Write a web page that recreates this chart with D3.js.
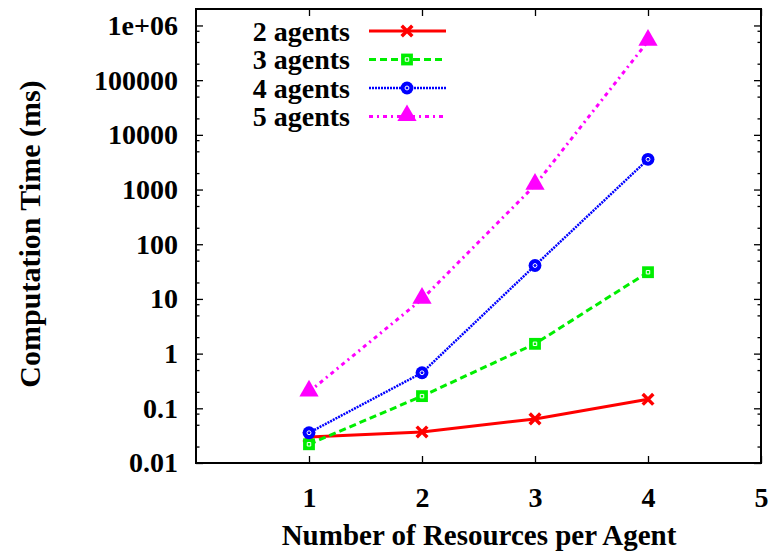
<!DOCTYPE html>
<html>
<head>
<meta charset="utf-8">
<script src="https://cdn.jsdelivr.net/npm/d3@7"></script>
<style>
  body { margin: 0; background: #fff; }
  text { font-family: "Liberation Serif", "Times New Roman", serif; font-weight: bold; }
</style>
</head>
<body>
<div id="chart"></div>
<script>
// Dados
const resources = [1, 2, 3, 4];
const agents2 = [0.030, 0.037, 0.064, 0.146];
const agents3 = [0.022, 0.167, 1.51, 30.8];
const agents4 = [0.0357, 0.446, 40.8, 3570];
const agents5 = [0.20, 9.9, 1200, 516000];
const seriesNames = ["2 agents", "3 agents", "4 agents", "5 agents"];
const xTicks = [1, 2, 3, 4, 5];
const yTicks = [0.01, 0.1, 1, 10, 100, 1000, 10000, 100000, 1000000];

const width = 773;
const height = 553;
const margin = { top: 9, right: 12, bottom: 90, left: 196 };
const w = width - margin.left - margin.right;
const h = height - margin.top - margin.bottom;

const svg = d3.select("#chart")
    .append("svg")
    .attr("width", width)
    .attr("height", height);

const g = svg.append("g")
    .attr("transform", `translate(${margin.left},${margin.top})`);

const x = d3.scaleLinear().domain([0, 5]).range([0, w]);
const y = d3.scaleLog().domain([0.01, 2e6]).range([h, 0]);

// ticks menores (2, 5, 8 por década)
const minor = [];
yTicks.forEach(t => [2, 5, 8].forEach(m => { if (t * m < 2e6) minor.push(t * m); }));

const fmt = d => d === 1e6 ? "1e+06" : String(d);

// eixo Y
g.append("g")
    .call(d3.axisLeft(y).tickValues(yTicks).tickFormat(fmt).tickSizeInner(-7).tickSizeOuter(0).tickPadding(18));
g.append("g")
    .call(d3.axisLeft(y).tickValues(minor).tickFormat("").tickSizeInner(-3.5).tickSizeOuter(0));
g.append("g").attr("transform", `translate(${w},0)`)
    .call(d3.axisRight(y).tickValues(yTicks).tickFormat("").tickSizeInner(-7).tickSizeOuter(0));
g.append("g").attr("transform", `translate(${w},0)`)
    .call(d3.axisRight(y).tickValues(minor).tickFormat("").tickSizeInner(-3.5).tickSizeOuter(0));

// eixo X
g.append("g").attr("transform", `translate(0,${h})`)
    .call(d3.axisBottom(x).tickValues(xTicks).tickFormat(d3.format("d")).tickSizeInner(-7).tickSizeOuter(0).tickPadding(24));
g.append("g")
    .call(d3.axisTop(x).tickValues(xTicks).tickFormat("").tickSizeInner(-7).tickSizeOuter(0));

g.selectAll(".tick text").attr("font-size", 28).attr("fill", "#000")
    .style("font-family", "'Liberation Serif', serif").style("font-weight", "bold");
g.selectAll(".tick line").attr("stroke", "#000").attr("stroke-width", 1.3);
g.selectAll(".domain").remove();

// moldura
g.append("rect")
    .attr("width", w).attr("height", h)
    .attr("fill", "none").attr("stroke", "#000").attr("stroke-width", 2);

// títulos
svg.append("text")
    .attr("x", 479).attr("y", 545)
    .attr("text-anchor", "middle").attr("font-size", 29)
    .text("Number of Resources per Agent");
svg.append("text")
    .attr("transform", `translate(40,${234}) rotate(-90)`)
    .attr("text-anchor", "middle").attr("font-size", 30)
    .text("Computation Time (ms)");

const series = [
    { name: seriesNames[0], values: agents2, color: "#ff0000", dash: null, width: 3, marker: "cross" },
    { name: seriesNames[1], values: agents3, color: "#00ee00", dash: "7,4", width: 3, marker: "square" },
    { name: seriesNames[2], values: agents4, color: "#0000ff", dash: "2,1", width: 2.5, marker: "circle" },
    { name: seriesNames[3], values: agents5, color: "#ff00ff", dash: "4,4,2,4", width: 3, marker: "triangle" }
];

const line = d3.line().x(d => x(d[0])).y(d => y(d[1]));

function drawMarker(sel, type, color) {
    if (type === "cross") {
        sel.append("path").attr("d", d3.symbol(d3.symbolX, 75)())
            .attr("stroke", color).attr("stroke-width", 3.5).attr("fill", "none");
    } else if (type === "square") {
        sel.append("path").attr("d", d3.symbol(d3.symbolSquare, 140)()).attr("fill", color);
        sel.append("path").attr("d", d3.symbol(d3.symbolSquare, 12)()).attr("fill", "none")
            .attr("stroke", "#fff").attr("stroke-width", 1);
    } else if (type === "circle") {
        sel.append("path").attr("d", d3.symbol(d3.symbolCircle, 130)()).attr("fill", color);
        sel.append("path").attr("d", d3.symbol(d3.symbolCircle, 12)()).attr("fill", "none")
            .attr("stroke", "#fff").attr("stroke-width", 1);
    } else {
        sel.append("path").attr("d", d3.symbol(d3.symbolTriangle, 160)())
            .attr("transform", "translate(0,-1)").attr("fill", color);
    }
}

series.forEach(s => {
    const pts = resources.map((r, i) => [r, s.values[i]]);
    g.append("path")
        .datum(pts)
        .attr("d", line)
        .attr("fill", "none")
        .attr("stroke", s.color)
        .attr("stroke-width", s.width)
        .attr("stroke-dasharray", s.dash);
    pts.forEach(p => {
        const m = g.append("g").attr("transform", `translate(${x(p[0])},${y(p[1])})`);
        drawMarker(m, s.marker, s.color);
    });
});

// legenda
const legend = g.append("g");
series.forEach((s, i) => {
    const ly = 22 + i * 28.5;
    legend.append("text")
        .attr("x", 154).attr("y", ly).attr("dy", "0.35em")
        .attr("text-anchor", "end").attr("font-size", 28)
        .text(s.name);
    legend.append("line")
        .attr("x1", 173).attr("x2", 250).attr("y1", ly).attr("y2", ly)
        .attr("stroke", s.color).attr("stroke-width", s.width)
        .attr("stroke-dasharray", s.dash);
    const m = legend.append("g").attr("transform", `translate(211,${ly})`);
    drawMarker(m, s.marker, s.color);
});
</script>
</body>
</html>
